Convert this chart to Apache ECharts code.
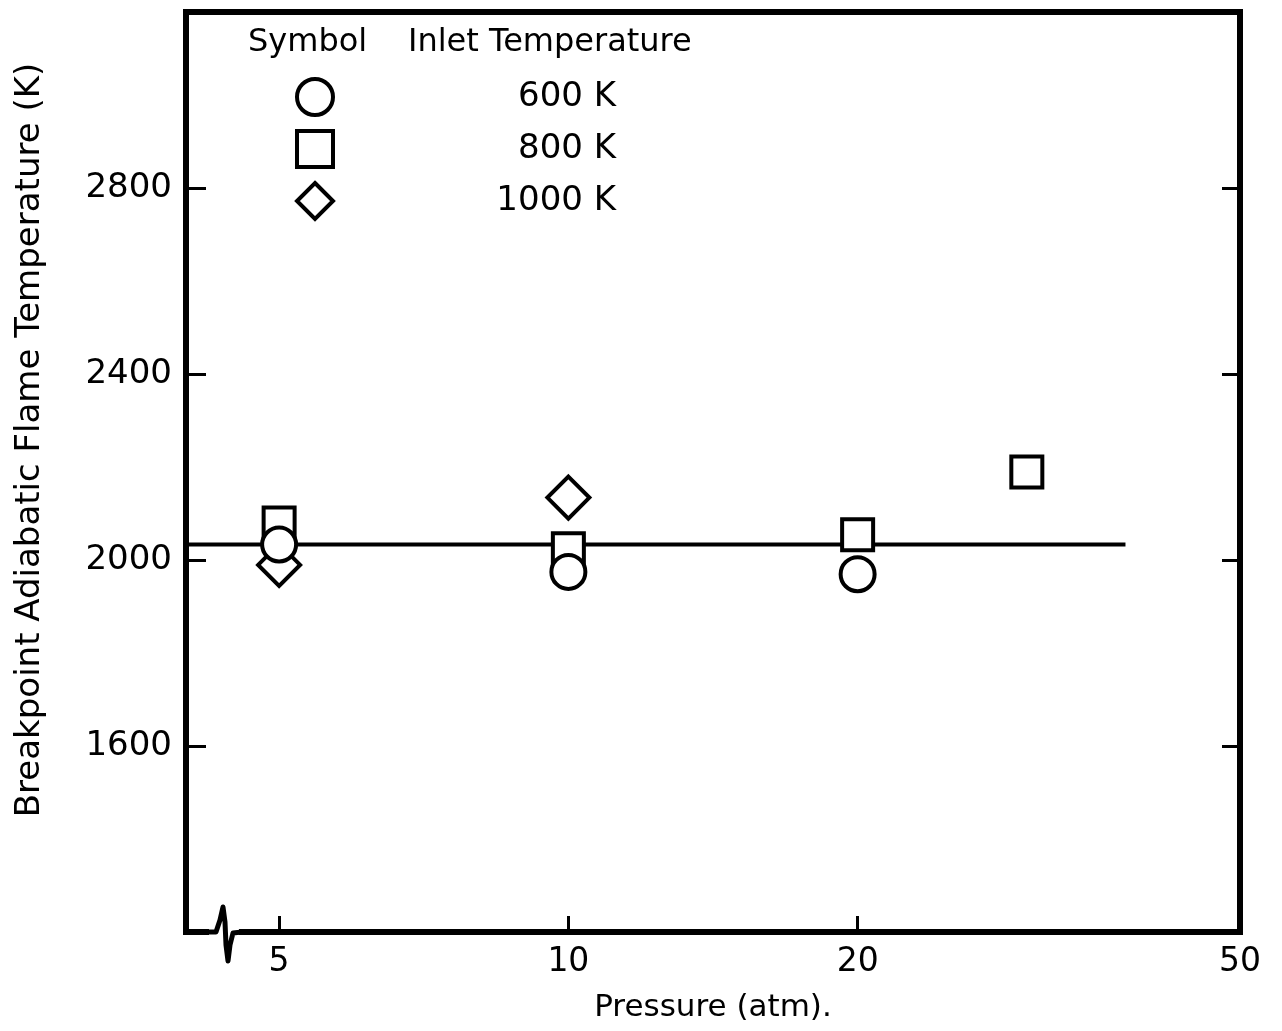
<!DOCTYPE html>
<html><head><meta charset="utf-8">
<script src="https://cdn.jsdelivr.net/npm/echarts@6/dist/echarts.min.js"></script>
<style>html,body{margin:0;padding:0;background:#fff}#c{width:1282px;height:1031px}</style>
</head><body><div id="c"></div>
<script>
// ---- data ----
const pressureTicks = [5, 10, 20, 50];
const tempTicks = [1600, 2000, 2400, 2800];
const seriesNames = ['600 K', '800 K', '1000 K'];
const circle600 = [[5, 2034], [10, 1975], [20, 1970]];
const square800 = [[5, 2080], [10, 2025], [20, 2055], [30, 2190]];
const diamond1000 = [[5, 1990], [10, 2135]];
const fitLineX = [4, 38];
const fitLineY = 2034;

const FONT = '"DejaVu Sans", sans-serif';
const markerStyle = { color: '#fff', borderColor: '#000', borderWidth: 4, opacity: 1 };

const chart = echarts.init(document.getElementById('c'), null, { renderer: 'canvas' });
chart.setOption({
  backgroundColor: '#fff',
  animation: false,
  grid: { left: 186, right: 42, top: 12, bottom: 99, show: true, borderColor: '#000', borderWidth: 6, backgroundColor: 'transparent' },
  xAxis: {
    type: 'log', logBase: 10, min: 4, max: 50,
    name: 'Pressure (atm).', nameLocation: 'middle', nameGap: 60,
    nameTextStyle: { fontFamily: FONT, fontSize: 31, color: '#000' },
    axisLine: { show: false },
    axisTick: { show: true, inside: true, length: 16, customValues: pressureTicks, lineStyle: { color: '#000', width: 3 } },
    axisLabel: { show: true, customValues: pressureTicks, margin: 14, fontFamily: FONT, fontSize: 33, color: '#000', formatter: v => String(v) },
    splitLine: { show: false },
    minorTick: { show: false }
  },
  yAxis: [{
    type: 'value', min: 1200, max: 3180, position: 'left',
    axisLine: { show: false },
    axisTick: { show: true, inside: true, length: 20, customValues: tempTicks, lineStyle: { color: '#000', width: 3 } },
    axisLabel: { show: true, customValues: tempTicks, margin: 14, fontFamily: FONT, fontSize: 34, color: '#000', formatter: v => String(v) },
    splitLine: { show: false }
  }, {
    type: 'value', min: 1200, max: 3180, position: 'right',
    axisLine: { show: false },
    axisTick: { show: true, inside: true, length: 18, customValues: tempTicks, lineStyle: { color: '#000', width: 3 } },
    axisLabel: { show: false },
    splitLine: { show: false }
  }],
  legend: {
    orient: 'vertical', left: 290, top: 72, itemWidth: 36, itemHeight: 36, itemGap: 12,
    selectedMode: false,
    data: seriesNames,
    itemStyle: { color: '#fff', borderColor: '#000', borderWidth: 4 },
    formatter: n => '{v|' + n + '}',
    textStyle: { rich: { v: { width: 278, align: 'right', fontFamily: FONT, fontSize: 34, color: '#000' } } }
  },
  graphic: [
    { type: 'text', left: 248, top: 27, z: 10, style: { text: 'Symbol', font: '32px ' + FONT, fill: '#000' } },
    { type: 'text', left: 408, top: 27, z: 10, style: { text: 'Inlet Temperature', font: '32px ' + FONT, fill: '#000' } },
    { type: 'text', x: 30, y: 440, rotation: Math.PI / 2, z: 10,
      style: { text: 'Breakpoint Adiabatic Flame Temperature (K)', font: '34px ' + FONT, fill: '#000', align: 'center', verticalAlign: 'middle' } },
    { type: 'rect', z: 10, shape: { x: 209, y: 926, width: 30, height: 12 }, style: { fill: '#fff' } },
    { type: 'polyline', z: 11, shape: { points: [[205, 932], [216, 932], [220, 920], [223, 907], [225, 922], [226, 945], [228, 961], [230, 945], [233, 933], [242, 932]] },
      style: { stroke: '#000', lineWidth: 5, fill: null, lineJoin: 'round' } }
  ],
  series: [
    { name: 'fit', type: 'line', z: 1, symbol: 'none', data: fitLineX.map(x => [x, fitLineY]),
      lineStyle: { color: '#000', width: 4 } },
    { name: seriesNames[1], type: 'scatter', z: 2, symbol: 'rect', symbolSize: 31, data: square800, itemStyle: markerStyle },
    { name: seriesNames[2], type: 'scatter', z: 3, symbol: 'diamond', symbolSize: 42, data: diamond1000, itemStyle: markerStyle },
    { name: seriesNames[0], type: 'scatter', z: 4, symbol: 'circle', symbolSize: 34, data: circle600, itemStyle: markerStyle }
  ]
});
</script></body></html>
